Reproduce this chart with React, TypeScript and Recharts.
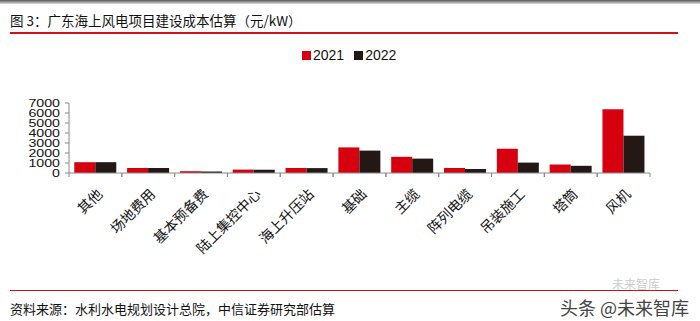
import React from 'react';
import { BarChart, Bar, XAxis, YAxis, Legend } from 'recharts';

const categories = ['其他', '场地费用', '基本预备费', '陆上集控中心', '海上升压站', '基础', '主缆', '阵列电缆', '吊装施工', '塔筒', '风机'];
const values2021 = [1080, 500, 180, 340, 500, 2560, 1620, 500, 2420, 850, 6370];
const values2022 = [1080, 500, 150, 330, 490, 2240, 1440, 400, 1040, 720, 3730];
const yTicks = [0, 1000, 2000, 3000, 4000, 5000, 6000, 7000];
const seriesNames = ['2021', '2022'];

const RED = '#D7000F';
const BLACK = '#231815';
const CJK = '"Noto Sans CJK SC", "Liberation Sans", sans-serif';
const LAT = '"Liberation Sans", Arial, sans-serif';

const data = categories.map((c, i) => ({ name: c, v2021: values2021[i], v2022: values2022[i] }));

const XTick = (props: any) => {
  const { x, y, payload } = props;
  const half = payload && payload.offset ? payload.offset : 0;
  const ax = x + 8;
  const ay = y + 14;
  return (
    <g>
      <line x1={x - half} y1={y - 8} x2={x - half} y2={y - 4} stroke="#888" strokeWidth={1} />
      <line x1={x + half} y1={y - 8} x2={x + half} y2={y - 4} stroke="#888" strokeWidth={1} />
      <text
        x={ax}
        y={ay}
        textAnchor="end"
        transform={`rotate(-45, ${ax}, ${ay})`}
        fontSize={14}
        fontFamily={CJK}
        fill="#111"
      >
        {payload.value}
      </text>
    </g>
  );
};

const YTick = (props: any) => {
  const { x, y, payload } = props;
  return (
    <text
      x={0}
      y={0}
      dy={3.6}
      transform={`translate(${x}, ${y}) scale(1.42, 1)`}
      textAnchor="end"
      fontSize={10}
      fontFamily={LAT}
      fill="#111"
    >
      {payload.value}
    </text>
  );
};

const LegendContent = () => (
  <div style={{ display: 'flex', alignItems: 'center', fontFamily: LAT, fontSize: 14, color: '#111' }}>
    <span style={{ display: 'inline-block', width: 9, height: 9, background: RED, marginRight: 2 }} />
    <span style={{ marginRight: 10 }}>{seriesNames[0]}</span>
    <span style={{ display: 'inline-block', width: 9, height: 9, background: BLACK, marginRight: 2 }} />
    <span>{seriesNames[1]}</span>
  </div>
);

export default function App() {
  return (
    <div style={{ position: 'absolute', left: 0, top: 0, width: 700, height: 321, background: '#fff', overflow: 'hidden' }}>
      <div style={{ position: 'absolute', left: 0, top: 0, width: 700, height: 4, background: 'linear-gradient(#555, #ddd)' }} />
      <div style={{ position: 'absolute', left: 10, top: 12, fontFamily: CJK, fontSize: 13.5, color: '#111', whiteSpace: 'nowrap', lineHeight: '16px' }}>
        图 3：广东海上风电项目建设成本估算（元/kW）
      </div>
      <div style={{ position: 'absolute', left: 10, top: 32, width: 668, height: 2, background: '#D0101A' }} />
      <BarChart
        width={700}
        height={321}
        data={data}
        margin={{ top: 87, right: 50, bottom: 48, left: 0 }}
        barCategoryGap="10%"
        barGap={0}
      >
        <XAxis
          dataKey="name"
          interval={0}
          tickLine={false}
          axisLine={{ stroke: '#888' }}
          height={100}
          tick={<XTick />}
        />
        <YAxis
          width={69}
          domain={[0, 7000]}
          ticks={yTicks}
          interval={0}
          tickSize={4}
          tickMargin={5}
          tickLine={{ stroke: '#888' }}
          axisLine={{ stroke: '#888' }}
          tick={<YTick />}
        />
        <Legend verticalAlign="top" content={<LegendContent />} wrapperStyle={{ top: 47, left: 302, width: 120 }} />
        <Bar dataKey="v2021" name={seriesNames[0]} fill={RED} isAnimationActive={false} />
        <Bar dataKey="v2022" name={seriesNames[1]} fill={BLACK} isAnimationActive={false} />
      </BarChart>
      <div style={{ position: 'absolute', left: 10, top: 290, width: 668, height: 1, background: '#D0101A' }} />
      <div style={{ position: 'absolute', left: 10, top: 300, fontFamily: CJK, fontSize: 13, color: '#111', whiteSpace: 'nowrap', lineHeight: '18px' }}>
        资料来源：水利水电规划设计总院，中信证券研究部估算
      </div>
      <div style={{ position: 'absolute', left: 612, top: 277, fontFamily: CJK, fontSize: 12, color: '#ccc', whiteSpace: 'nowrap', lineHeight: '13px' }}>
        未来智库
      </div>
      <div style={{ position: 'absolute', left: 560, top: 297, fontFamily: CJK, fontSize: 18, color: '#444', whiteSpace: 'nowrap', lineHeight: '20px' }}>
        头条 @未来智库
      </div>
    </div>
  );
}
